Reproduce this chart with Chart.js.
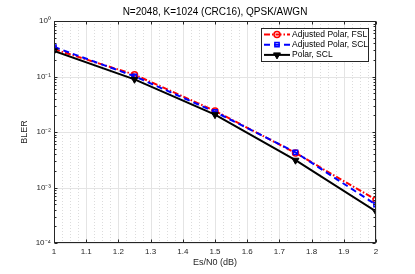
<!DOCTYPE html>
<html>
<head>
<meta charset="utf-8">
<script src="https://cdn.jsdelivr.net/npm/chart.js@4/dist/chart.umd.min.js"></script>
<style>
  html, body { margin: 0; padding: 0; background: #ffffff; }
  canvas { display: block; }
</style>
</head>
<body>
<canvas id="blerChart" width="415" height="274"></canvas>
<script>
// Data
const esN0 = [1, 1.25, 1.5, 1.75, 2];
const adjustedFsl = [0.31, 0.108, 0.024, 0.0042, 0.00060];
const adjustedScl = [0.34, 0.101, 0.023, 0.0043, 0.00049];
const polarScl = [0.29, 0.089, 0.0205, 0.0031, 0.00037];

const xTicks = [1, 1.1, 1.2, 1.3, 1.4, 1.5, 1.6, 1.7, 1.8, 1.9, 2];
const yDecades = [-4, -3, -2, -1, 0];

const titleText = 'N=2048, K=1024 (CRC16), QPSK/AWGN';
const xLabel = 'Es/N0 (dB)';
const yLabel = 'BLER';
const FONT = '"Liberation Sans", Arial, Helvetica, sans-serif';
const AXIS = '#262626';

const SUP = { '-': '\u207B', '0': '\u2070', '1': '\u00B9', '2': '\u00B2', '3': '\u00B3', '4': '\u2074' };
const toSup = n => String(n).split('').map(c => SUP[c]).join('');

const toPoints = ys => esN0.map((x, i) => ({ x, y: ys[i] }));

// minor positions: x gets dotted grid, y only gets minor tick marks
const xMinor = [];
for (let i = 0; i < xTicks.length - 1; i++) {
    for (let k = 1; k < 4; k++) xMinor.push(xTicks[i] + (xTicks[i + 1] - xTicks[i]) * k / 4);
}
const yMinor = [];
yDecades.slice(0, -1).forEach(e => {
    for (let m = 2; m <= 9; m++) yMinor.push(m * Math.pow(10, e));
});

const frame = {
    id: 'frame',
    beforeDatasetsDraw(chart) {
        const { ctx, chartArea: a, scales: { x, y } } = chart;
        ctx.save();
        ctx.lineWidth = 1;
        ctx.strokeStyle = '#dcdcdc';
        ctx.setLineDash([1, 2]);
        xMinor.forEach(v => {
            const px = Math.round(x.getPixelForValue(v)) + 0.5;
            ctx.beginPath(); ctx.moveTo(px, a.top); ctx.lineTo(px, a.bottom); ctx.stroke();
        });
        ctx.setLineDash([]);
        ctx.strokeStyle = '#e4e4e4';
        xTicks.forEach(v => {
            const px = Math.round(x.getPixelForValue(v)) + 0.5;
            ctx.beginPath(); ctx.moveTo(px, a.top); ctx.lineTo(px, a.bottom); ctx.stroke();
        });
        yDecades.forEach(e => {
            const py = Math.round(y.getPixelForValue(Math.pow(10, e))) + 0.5;
            ctx.beginPath(); ctx.moveTo(a.left, py); ctx.lineTo(a.right, py); ctx.stroke();
        });
        ctx.restore();
    },
    afterDatasetsDraw(chart) {
        const { ctx, chartArea: a, scales: { x, y } } = chart;
        const L = Math.round(a.left) + 0.5, R = Math.round(a.right) - 0.5;
        const T = Math.round(a.top) + 0.5, B = Math.round(a.bottom) - 0.5;
        ctx.save();
        ctx.strokeStyle = AXIS;
        ctx.lineWidth = 1;
        ctx.strokeRect(L, T, R - L, B - T);
        ctx.beginPath();
        xTicks.forEach(v => {
            const px = Math.round(x.getPixelForValue(v)) + 0.5;
            ctx.moveTo(px, B); ctx.lineTo(px, B - 3);
            ctx.moveTo(px, T); ctx.lineTo(px, T + 3);
        });
        yDecades.forEach(e => {
            const py = Math.round(y.getPixelForValue(Math.pow(10, e))) + 0.5;
            ctx.moveTo(L, py); ctx.lineTo(L + 3, py);
            ctx.moveTo(R, py); ctx.lineTo(R - 3, py);
        });
        yMinor.forEach(v => {
            const py = Math.round(y.getPixelForValue(v)) + 0.5;
            ctx.moveTo(L, py); ctx.lineTo(L + 2, py);
            ctx.moveTo(R, py); ctx.lineTo(R - 2, py);
        });
        ctx.stroke();

        // titles
        ctx.fillStyle = '#000000';
        ctx.textAlign = 'center';
        ctx.textBaseline = 'middle';
        ctx.font = '10px ' + FONT;
        ctx.fillText(titleText, (a.left + a.right) / 2, 12);
        ctx.fillStyle = AXIS;
        ctx.font = '9px ' + FONT;
        ctx.fillText(xLabel, (a.left + a.right) / 2, 263);
        ctx.translate(25, (a.top + a.bottom) / 2);
        ctx.rotate(-Math.PI / 2);
        ctx.fillText(yLabel, 0, 0);
        ctx.restore();

        // legend
        ctx.save();
        const bx = 261.5, by = 28.5, bw = 107, bh = 33;
        ctx.fillStyle = '#ffffff';
        ctx.fillRect(bx, by, bw, bh);
        ctx.strokeStyle = AXIS;
        ctx.lineWidth = 1;
        ctx.strokeRect(bx, by, bw, bh);
        ctx.font = '8.5px ' + FONT;
        ctx.textAlign = 'left';
        ctx.textBaseline = 'middle';
        chart.data.datasets.forEach((ds, i) => {
            const ly = 34.5 + i * 10.2;
            ctx.strokeStyle = ds.borderColor;
            ctx.lineWidth = ds.borderWidth;
            ctx.setLineDash(ds.borderDash || []);
            ctx.beginPath(); ctx.moveTo(264, ly); ctx.lineTo(290, ly); ctx.stroke();
            ctx.setLineDash([]);
            ctx.fillStyle = ds.pointBackgroundColor;
            ctx.strokeStyle = ds.pointBorderColor;
            ctx.lineWidth = ds.pointBorderWidth;
            Chart.helpers.drawPoint(ctx, {
                pointStyle: ds.pointStyle, rotation: ds.pointRotation || 0,
                radius: ds.pointRadius, borderWidth: ds.pointBorderWidth
            }, 277, ly);
            ctx.fillStyle = '#000000';
            ctx.fillText(ds.label, 292, ly);
        });
        ctx.restore();
    }
};

new Chart(document.getElementById('blerChart'), {
    type: 'line',
    data: {
        datasets: [{
            label: 'Adjusted Polar, FSL',
            data: toPoints(adjustedFsl),
            borderColor: '#ff0000',
            borderWidth: 2,
            borderDash: [6, 2, 1.5, 2],
            pointStyle: 'circle',
            pointRadius: 3,
            pointBorderWidth: 1.5,
            pointBorderColor: '#ff0000',
            pointBackgroundColor: 'rgba(255,255,255,0)',
            order: 2
        }, {
            label: 'Adjusted Polar, SCL',
            data: toPoints(adjustedScl),
            borderColor: '#0000ff',
            borderWidth: 2,
            borderDash: [6, 4],
            pointStyle: 'rect',
            pointRadius: 3,
            pointBorderWidth: 1.5,
            pointBorderColor: '#0000ff',
            pointBackgroundColor: 'rgba(255,255,255,0)',
            order: 1
        }, {
            label: 'Polar, SCL',
            data: toPoints(polarScl),
            borderColor: '#000000',
            borderWidth: 2,
            pointStyle: 'triangle',
            pointRotation: 180,
            pointRadius: 4,
            pointBorderWidth: 1,
            pointBorderColor: '#000000',
            pointBackgroundColor: '#000000',
            order: 0
        }]
    },
    options: {
        responsive: false,
        animation: false,
        layout: { padding: { top: 21, right: 39, left: 0, bottom: 0 } },
        plugins: { legend: { display: false }, tooltip: { enabled: false } },
        elements: { line: { tension: 0 } },
        scales: {
            x: {
                type: 'linear',
                min: 1,
                max: 2,
                afterBuildTicks: s => { s.ticks = xTicks.map(v => ({ value: v })); },
                afterFit: s => { s.height = 31; },
                grid: { display: false, drawTicks: false },
                border: { display: false },
                ticks: {
                    autoSkip: false,
                    maxRotation: 0,
                    padding: 4,
                    color: AXIS,
                    font: { family: FONT, size: 8 },
                    callback: v => String(Math.round(v * 10) / 10)
                }
            },
            y: {
                type: 'logarithmic',
                min: 1e-4,
                max: 1,
                afterBuildTicks: s => { s.ticks = yDecades.map(e => ({ value: Math.pow(10, e), major: true })); },
                afterFit: s => { s.width = 54; },
                grid: { display: false, drawTicks: false },
                border: { display: false },
                ticks: {
                    autoSkip: false,
                    padding: 3,
                    color: AXIS,
                    font: { family: FONT, size: 8 },
                    callback: v => '10' + toSup(Math.round(Math.log10(v)))
                }
            }
        }
    },
    plugins: [frame]
});
</script>
</body>
</html>
